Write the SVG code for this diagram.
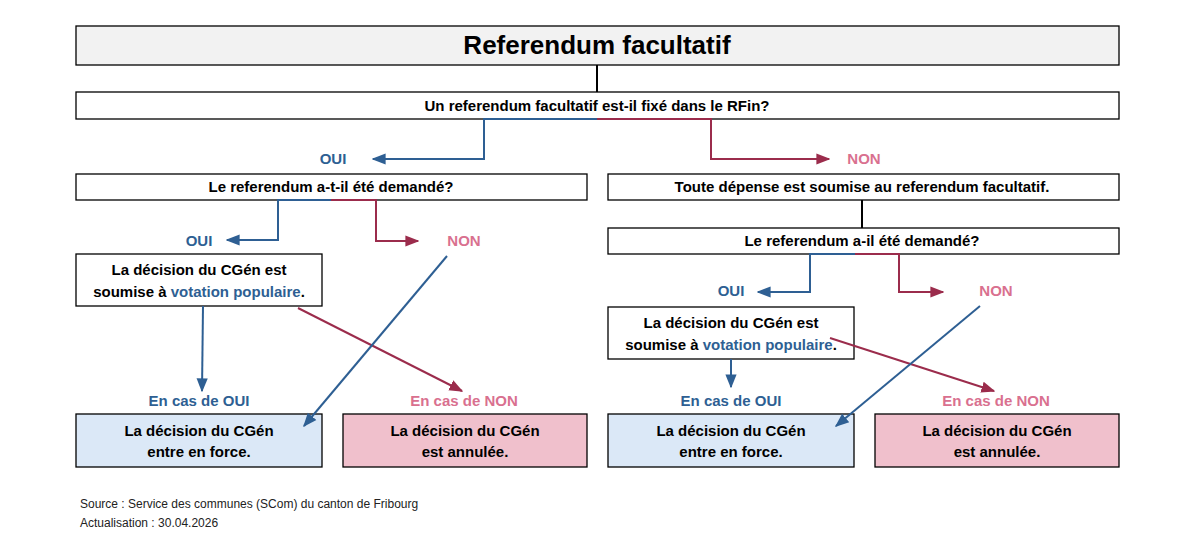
<svg xmlns="http://www.w3.org/2000/svg" width="1197" height="559" viewBox="0 0 1197 559">
<defs>
<marker id="ab" viewBox="0 0 10 10" refX="9" refY="5" markerWidth="7" markerHeight="7" orient="auto"><path d="M0,1 L10,5 L0,9z" fill="#2e5f93"/></marker>
<marker id="ar" viewBox="0 0 10 10" refX="9" refY="5" markerWidth="7" markerHeight="7" orient="auto"><path d="M0,1 L10,5 L0,9z" fill="#9b2c4c"/></marker>
<style>
text{font-family:"Liberation Sans",Arial,sans-serif;font-weight:bold;text-anchor:middle}
.box{fill:#fff;stroke:#000;stroke-width:1.3}
.t{font-size:15px;fill:#000}
.b{stroke:#2e5f93;stroke-width:2;fill:none}
.r{stroke:#9b2c4c;stroke-width:2;fill:none}
.k{stroke:#000;stroke-width:2;fill:none}
.lb{font-size:15px;fill:#2e5f93}
.lr{font-size:15px;fill:#d9708f}
.f{font-size:12px;font-weight:normal;text-anchor:start;fill:#222}
</style>
</defs>
<rect width="1197" height="559" fill="#fff"/>
<g id="title"><rect class="box" x="76" y="26" width="1043" height="39" style="fill:#f2f2f2"/><text x="597" y="54" style="font-size:26px">Referendum facultatif</text></g>
<g id="q1"><rect class="box" x="76" y="92" width="1043" height="27"/><text class="t" x="597" y="111">Un referendum facultatif est-il fixé dans le RFin?</text></g>
<g id="qL"><rect class="box" x="76" y="174" width="511" height="26"/><text class="t" x="331" y="192">Le referendum a-t-il été demandé?</text></g>
<g id="dR"><rect class="box" x="608" y="174" width="511" height="26"/><text class="t" x="862" y="192">Toute dépense est soumise au referendum facultatif.</text></g>
<g id="qR"><rect class="box" x="608" y="228" width="511" height="26"/><text class="t" x="862" y="246">Le referendum a-il été demandé?</text></g>
<g id="vL"><rect class="box" x="76" y="254" width="246" height="52"/><text class="t" x="199" y="275">La décision du CGén est</text><text class="t" x="199" y="297">soumise à <tspan fill="#2e5f93">votation populaire</tspan>.</text></g>
<g id="vR"><rect class="box" x="608" y="307" width="246" height="52"/><text class="t" x="731" y="328">La décision du CGén est</text><text class="t" x="731" y="350">soumise à <tspan fill="#2e5f93">votation populaire</tspan>.</text></g>
<g id="fL"><rect class="box" x="76" y="414" width="246" height="53" style="fill:#dbe8f7"/><text class="t" x="199" y="436">La décision du CGén</text><text class="t" x="199" y="457">entre en force.</text></g>
<g id="aL"><rect class="box" x="343" y="414" width="244" height="53" style="fill:#f0c0cc"/><text class="t" x="465" y="436">La décision du CGén</text><text class="t" x="465" y="457">est annulée.</text></g>
<g id="fR"><rect class="box" x="608" y="414" width="246" height="53" style="fill:#dbe8f7"/><text class="t" x="731" y="436">La décision du CGén</text><text class="t" x="731" y="457">entre en force.</text></g>
<g id="aR"><rect class="box" x="875" y="414" width="244" height="53" style="fill:#f0c0cc"/><text class="t" x="997" y="436">La décision du CGén</text><text class="t" x="997" y="457">est annulée.</text></g>
<g id="labels">
<text class="lb" x="333" y="164">OUI</text><text class="lr" x="864" y="164">NON</text>
<text class="lb" x="199" y="246">OUI</text><text class="lr" x="464" y="246">NON</text>
<text class="lb" x="731" y="296">OUI</text><text class="lr" x="996" y="296">NON</text>
<text class="lb" x="199" y="406">En cas de OUI</text><text class="lr" x="464" y="406">En cas de NON</text>
<text class="lb" x="731" y="406">En cas de OUI</text><text class="lr" x="996" y="406">En cas de NON</text>
</g>
<g id="connectors">
<path class="k" d="M597,65V92"/><path class="k" d="M862,200V228"/>
<path class="b" d="M597,119H484V159H373" marker-end="url(#ab)"/>
<path class="r" d="M597,119H711V159H829" marker-end="url(#ar)"/>
<path class="b" d="M331,200H278V240H227" marker-end="url(#ab)"/>
<path class="r" d="M331,200H376V241H418" marker-end="url(#ar)"/>
<path class="b" d="M855,254H810V292H758" marker-end="url(#ab)"/>
<path class="r" d="M855,254H899V292H943" marker-end="url(#ar)"/>
<path class="b" d="M203,306L202,391" marker-end="url(#ab)"/>
<path class="r" d="M298,308L462,391" marker-end="url(#ar)"/>
<path class="b" d="M447,256L304,426" marker-end="url(#ab)"/>
<path class="b" d="M731,359V387" marker-end="url(#ab)"/>
<path class="r" d="M830,338L994,391" marker-end="url(#ar)"/>
<path class="b" d="M980,306L836,426" marker-end="url(#ab)"/>
</g>
<g id="footer"><text class="f" x="80" y="508">Source : Service des communes (SCom) du canton de Fribourg</text><text class="f" x="80" y="527">Actualisation : 30.04.2026</text></g>
</svg>
